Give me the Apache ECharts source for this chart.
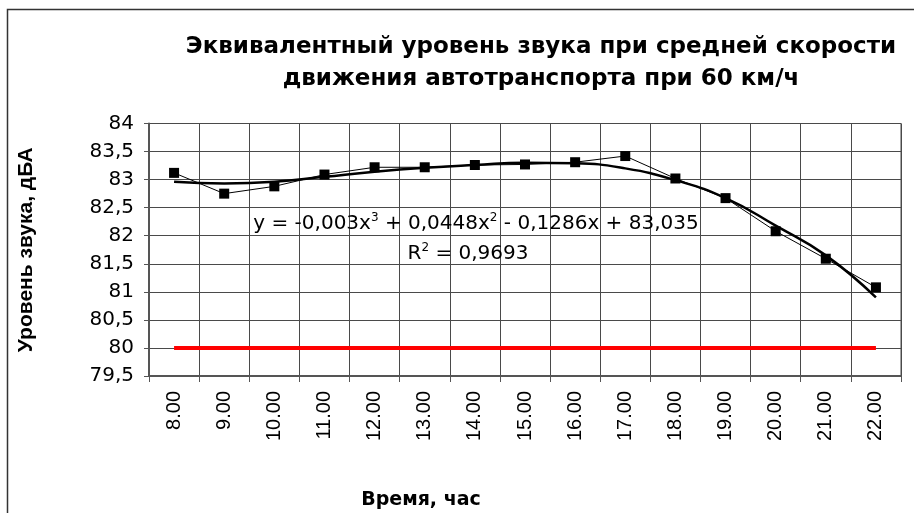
<!DOCTYPE html>
<html>
<head>
<meta charset="utf-8">
<script src="https://cdn.jsdelivr.net/npm/echarts@6/dist/echarts.min.js"></script>
<style>
html,body{margin:0;padding:0;background:#fff;}
#c{width:914px;height:513px;}
</style>
</head>
<body>
<div id="c"></div>
<script>
const categories = ['8.00','9.00','10.00','11.00','12.00','13.00','14.00','15.00','16.00','17.00','18.00','19.00','20.00','21.00','22.00'];
const measured = [83.12, 82.75, 82.88, 83.09, 83.22, 83.22, 83.26, 83.27, 83.31, 83.42, 83.02, 82.67, 82.08, 81.59, 81.08];
const trend = [82.96, 82.93, 82.96, 83.05, 83.14, 83.21, 83.26, 83.30, 83.29, 83.20, 82.99, 82.67, 82.18, 81.65, 80.90];
const limit = [80, 80, 80, 80, 80, 80, 80, 80, 80, 80, 80, 80, 80, 80, 80];

const chart = echarts.init(document.getElementById('c'), null, {renderer:'canvas'});
const gridLine = {show:true, lineStyle:{color:'#4a4a4a', width:1}};
const eqRich = {
  n:{fontFamily:'DejaVu Sans', fontSize:20, fill:'#000', verticalAlign:'bottom'},
  s:{fontFamily:'DejaVu Sans', fontSize:12, fill:'#000', verticalAlign:'top', padding:[0,0,10,0]}
};
chart.setOption({
  backgroundColor:'#fff',
  animation:false,
  title:{
    text:'Эквивалентный уровень звука при средней скорости\nдвижения автотранспорта при 60 км/ч',
    left:536, top:26, textAlign:'center',
    textStyle:{fontFamily:'DejaVu Sans', fontWeight:'bold', fontSize:23, lineHeight:32, color:'#000'}
  },
  grid:{left:149, right:13, top:123.5, bottom:137, show:true, borderColor:'#4a4a4a', borderWidth:1},
  xAxis:{
    type:'category', data:categories, boundaryGap:true,
    axisLine:{lineStyle:{color:'#555', width:2}},
    axisTick:{show:true, length:6, lineStyle:{color:'#555'}},
    axisLabel:{rotate:90, fontFamily:'Liberation Sans', fontSize:20, color:'#000', margin:15},
    splitLine:gridLine,
    name:'Время, час', nameLocation:'middle', nameGap:115,
    nameTextStyle:{fontFamily:'DejaVu Sans', fontWeight:'bold', fontSize:19, color:'#000', padding:[0,208,0,0]}
  },
  yAxis:{
    type:'value', min:79.5, max:84, interval:0.5,
    axisLine:{show:true, lineStyle:{color:'#555', width:2}},
    axisTick:{show:true, length:5, lineStyle:{color:'#555'}},
    axisLabel:{fontFamily:'DejaVu Sans', fontSize:20, color:'#000', margin:15,
      formatter:v => String(v).replace('.', ',')},
    splitLine:gridLine,
    name:'Уровень звука, дБА', nameLocation:'middle', nameGap:112,
    nameTextStyle:{fontFamily:'Liberation Sans', fontWeight:'bold', fontSize:21, color:'#000'}
  },
  graphic:[
    {type:'rect', shape:{x:7.5, y:9.5, width:920, height:520}, style:{fill:null, stroke:'#333', lineWidth:1.5}, silent:true, z:-1},
    {type:'text', x:476, y:223, style:{
      text:'{n|y = -0,003x}{s|3}{n| + 0,0448x}{s|2}{n| - 0,1286x + 83,035}',
      align:'center', verticalAlign:'middle', rich:eqRich
    }, z:10},
    {type:'text', x:468, y:253, style:{
      text:'{n|R}{s|2}{n| = 0,9693}',
      align:'center', verticalAlign:'middle', rich:eqRich
    }, z:10}
  ],
  series:[
    {type:'line', name:'limit', data:limit, symbol:'none', lineStyle:{color:'#ff0000', width:4}, z:2},
    {type:'line', name:'trend', data:trend, symbol:'none', smooth:true, lineStyle:{color:'#000', width:2.5}, z:3},
    {type:'line', name:'measured', data:measured, symbol:'rect', symbolSize:10,
      itemStyle:{color:'#000'}, lineStyle:{color:'#000', width:1}, z:4}
  ]
});
</script>
</body>
</html>
